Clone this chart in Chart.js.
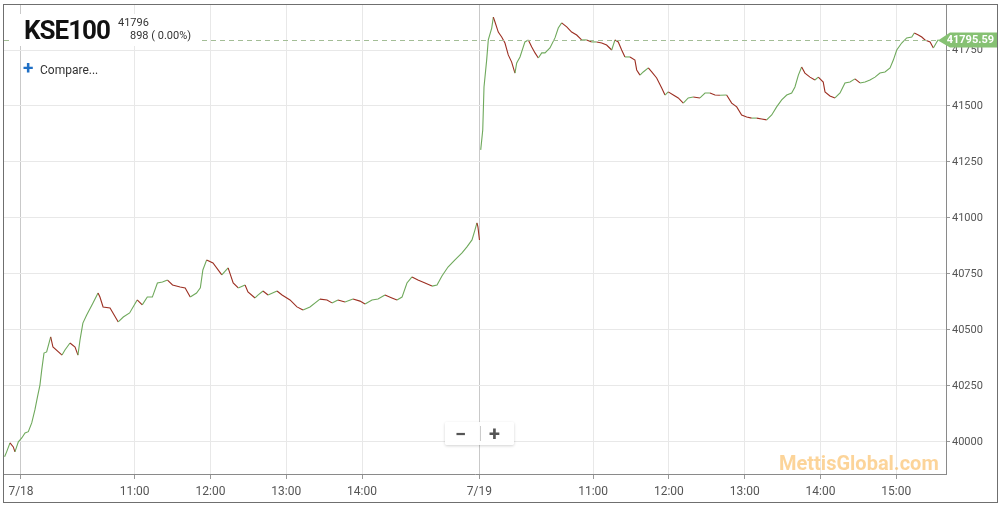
<!DOCTYPE html>
<html>
<head>
<meta charset="utf-8">
<script src="https://cdn.jsdelivr.net/npm/chart.js@4.4.0/dist/chart.umd.min.js"></script>
<style>
  html, body { margin: 0; padding: 0; background: #fff; }
  #wrap { position: relative; width: 1008px; height: 512px; font-family: Roboto, sans-serif; overflow: hidden; }
  #chart { position: absolute; left: 0; top: 0; }
  .abs { position: absolute; white-space: nowrap; line-height: 1; }
  #headbox { position: absolute; left: 12px; top: 14px; width: 188px; height: 32px; background: #fff; }
  #sym { left: 24px; top: 17.4px; font-size: 26px; font-weight: 700; color: #111; letter-spacing: -1px; }
  #last { left: 118px; top: 17.4px; font-size: 11px; color: #333; }
  #chg { left: 130px; top: 30px; font-size: 11px; color: #333; }
  #plus { left: 23px; top: 58px; font-size: 19px; font-weight: 700; color: #1f6fc5; }
  #cmp { left: 40px; top: 64px; font-size: 12px; color: #333; }
  #zoombox { position: absolute; left: 445px; top: 422px; width: 69px; height: 23px; background: rgba(255,255,255,0.92);
             box-shadow: 0 1px 3px rgba(0,0,0,0.18); border-radius: 2px; }
  #zsep { position: absolute; left: 35px; top: 4px; width: 1px; height: 15px; background: #ccc; }
  #zminus { left: 10px; top: 2px; font-size: 20px; font-weight: 700; color: #555; }
  #zplus { left: 44px; top: 2px; font-size: 20px; font-weight: 700; color: #555; }
  #mark { left: 779px; top: 452.5px; font-size: 20px; font-weight: 700; color: rgba(250,176,70,0.55); }
</style>
</head>
<body>
<div id="wrap">
  <canvas id="chart" width="1008" height="512"></canvas>
  <div id="headbox"></div>
  <div class="abs" id="sym">KSE100</div>
  <div class="abs" id="last">41796</div>
  <div class="abs" id="chg">898 ( 0.00%)</div>
  <div class="abs" id="plus">+</div>
  <div class="abs" id="cmp">Compare...</div>
  <div id="zoombox">
    <div id="zsep"></div>
    <div class="abs" id="zminus">&#8722;</div>
    <div class="abs" id="zplus">+</div>
  </div>
  <div class="abs" id="mark">MettisGlobal.com</div>
</div>
<script>
// minutes from 7/18 09:30 (7/19 09:30 = 363), null = session break
var minutes = [
  -13, -11.3, -8.7, -6.1, -4.8, -2.1, 0.6, 3.2, 5.8, 8.5, 11, 13, 15, 16.4, 18.2, 20.3, 23.5, 25.3, 32.5, 34.8,
  38.8, 42.8, 45.1, 46.7, 49, 52, 57, 61, 62.5, 65, 70.5, 77, 81, 86, 92, 96, 100, 104, 108, 112,
  116, 120, 126, 130, 134, 139, 142, 144, 147, 152, 159, 164, 168, 172, 177.4, 179.7, 185.3, 187.6, 191.6, 195.6,
  202.7, 206.7, 213, 218.5, 223.3, 228.8, 236.7, 242.3, 246.2, 251, 256.5, 262.9, 268.4, 272.4, 277.9, 282.7, 288.2, 293.7, 297.7, 301.7,
  305.6, 309.6, 314.3, 319.9, 325.4, 329.4, 333.3, 338.1, 343.6, 349.2, 353.1, 357.1, 359.4, 361, 361.8, 363,
  363.5,
  364, 365.6, 366.6, 368.7, 370, 372.7, 374, 375.3, 377.9, 380.6, 383.2, 385.8, 388.5, 391.1, 392.5, 395.1, 399, 401.7, 404.4, 407,
  409.6, 412.3, 414.9, 418.8, 422.8, 425.4, 428.1, 432.1, 436, 440, 443.9, 447.9, 451.8, 455.8, 459.8, 463.7, 467.7, 470.3, 472.9, 475.6,
  478.2, 482.2, 486.1, 487.5, 490.1, 492.7, 496.7, 499.4, 503.3, 507.3, 509.9, 512.5, 516.5, 520.4, 524.4, 528.3, 532.3, 537.6, 541.6, 545.5,
  549.5, 553.4, 558.7, 562.7, 566.7, 570.6, 574.6, 578.5, 582.5, 586.5, 590.4, 594.4, 598.3, 602.3, 606.3, 610.2, 612.8, 615.5, 618.1, 620.7,
  624.7, 628.6, 631.3, 635.2, 636.6, 640.5, 644.5, 648.5, 652.4, 656.4, 660.3, 664.3, 668.3, 672.2, 676.2, 680.1, 684.1, 688.1, 690.7, 693.4,
  697.3, 701.3, 705.3, 707.3, 710.5, 713.2, 715.8, 719.8, 722.4, 725.1, 726.4
];
var prices = [
  39934, 39957, 39996, 39978, 39956, 40001, 40018, 40040, 40046, 40085, 40143, 40200, 40254, 40321, 40397, 40402, 40469, 40424, 40388, 40411,
  40442, 40424, 40388, 40455, 40531, 40567, 40621, 40665, 40647, 40603, 40598, 40536, 40558, 40576, 40634, 40612, 40647, 40647, 40710, 40714,
  40723, 40701, 40692, 40688, 40647, 40665, 40688, 40768, 40813, 40799, 40746, 40777, 40710, 40688, 40701, 40670, 40643, 40656, 40674, 40656,
  40674, 40656, 40634, 40603, 40589, 40603, 40638, 40634, 40621, 40634, 40625, 40638, 40629, 40616, 40634, 40638, 40656, 40643, 40634, 40647,
  40710, 40737, 40723, 40710, 40696, 40701, 40741, 40781, 40813, 40844, 40871, 40902, 40946, 40978, 40960, 40902,
  null,
  41304, 41393, 41585, 41705, 41795, 41848, 41897, 41875, 41830, 41808, 41781, 41728, 41696, 41647, 41692, 41719, 41786, 41795, 41763, 41737,
  41714, 41737, 41737, 41759, 41804, 41848, 41871, 41853, 41830, 41817, 41795, 41795, 41786, 41786, 41781, 41772, 41750, 41795, 41786, 41750,
  41719, 41719, 41705, 41661, 41638, 41652, 41670, 41652, 41625, 41580, 41549, 41563, 41549, 41536, 41513, 41536, 41540, 41536, 41558, 41558,
  41549, 41548, 41549, 41513, 41496, 41460, 41451, 41446, 41446, 41442, 41438, 41460, 41496, 41527, 41549, 41558, 41585, 41638, 41674, 41647,
  41629, 41616, 41629, 41607, 41563, 41545, 41536, 41558, 41603, 41607, 41621, 41603, 41607, 41616, 41629, 41647, 41652, 41670, 41705, 41750,
  41781, 41804, 41808, 41826, 41817, 41808, 41795, 41786, 41759, 41786, 41796
];
var tickMinutes = [0, 90, 150, 210, 270, 363, 453, 513, 573, 633, 693];
var tickLabels = ['7/18', '11:00', '12:00', '13:00', '14:00', '7/19', '11:00', '12:00', '13:00', '14:00', '15:00'];
var dayStarts = [0, 363];
var priceTicks = [40000, 40250, 40500, 40750, 41000, 41250, 41500, 41750];
var lastPrice = 41795.59;

var UP = '#6fa95c';
var DOWN = '#9c2f22';

var points = minutes.map(function(m, i) { return { x: m, y: prices[i] }; });

// frame, dashed last-price line and the green price tag
var overlay = {
  id: 'overlay',
  afterDatasetsDraw: function(chart) {
    var c = chart.ctx, a = chart.chartArea;
    var y = Math.round(chart.scales.y.getPixelForValue(lastPrice)) + 0.5;
    c.save();
    c.strokeStyle = '#a3bd96';
    c.lineWidth = 1;
    c.setLineDash([5, 4]);
    c.beginPath();
    c.moveTo(a.left, y);
    c.lineTo(a.right, y);
    c.stroke();
    c.restore();
  },
  afterDraw: function(chart) {
    var c = chart.ctx, a = chart.chartArea;
    var y = Math.round(chart.scales.y.getPixelForValue(lastPrice)) + 0.5;
    c.save();
    c.fillStyle = '#86c173';
    c.beginPath();
    c.moveTo(a.right - 8, y);
    c.lineTo(a.right + 4, y - 8);
    c.lineTo(997, y - 8);
    c.lineTo(997, y + 7);
    c.lineTo(a.right + 4, y + 7);
    c.closePath();
    c.fill();
    c.fillStyle = '#fff';
    c.font = 'bold 11px Roboto';
    c.textAlign = 'right';
    c.textBaseline = 'middle';
    c.fillText(lastPrice.toFixed(2), 994, y);
    c.strokeStyle = '#6f6f6f';
    c.lineWidth = 1;
    c.strokeRect(3.5, 4.5, 994, 498);
    c.restore();
  }
};

new Chart(document.getElementById('chart'), {
  type: 'line',
  data: {
    datasets: [{
      data: points,
      borderWidth: 1.1,
      pointRadius: 0,
      tension: 0,
      spanGaps: false,
      segment: {
        borderColor: function(ctx) { return ctx.p1.parsed.y >= ctx.p0.parsed.y ? UP : DOWN; }
      }
    }]
  },
  options: {
    responsive: false,
    animation: false,
    parsing: false,
    layout: { padding: { left: 4, top: 5, right: 11, bottom: 10 } },
    plugins: { legend: { display: false }, tooltip: { enabled: false } },
    scales: {
      x: {
        type: 'linear',
        min: -13.46,
        max: 732.4,
        afterBuildTicks: function(s) { s.ticks = tickMinutes.map(function(v) { return { value: v }; }); },
        afterFit: function(s) { s.height = 28; s.paddingLeft = 0; s.paddingRight = 0; },
        ticks: {
          autoSkip: false,
          maxRotation: 0,
          padding: 6,
          color: '#555',
          font: { family: 'Roboto', size: 12 },
          callback: function(v) { return tickLabels[tickMinutes.indexOf(v)]; }
        },
        grid: {
          color: function(ctx) { return dayStarts.indexOf(ctx.tick && ctx.tick.value) >= 0 ? '#c9c9c9' : '#e8e8e8'; },
          tickColor: '#999',
          tickLength: 5
        },
        border: { color: '#8a8a8a' }
      },
      y: {
        position: 'right',
        min: 39857.1,
        max: 41950.9,
        afterBuildTicks: function(s) { s.ticks = priceTicks.map(function(v) { return { value: v }; }); },
        afterFit: function(s) { s.width = 51; s.paddingTop = 0; s.paddingBottom = 0; },
        ticks: {
          padding: 2,
          color: '#555',
          font: { family: 'Roboto', size: 11 },
          callback: function(v) { return String(v); }
        },
        grid: { color: '#e8e8e8', tickColor: '#999', tickLength: 4 },
        border: { color: '#8a8a8a' }
      }
    }
  },
  plugins: [overlay]
});
</script>
</body>
</html>
